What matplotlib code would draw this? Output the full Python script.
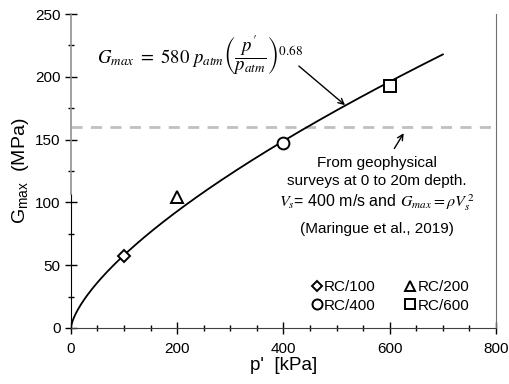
import numpy as np
import matplotlib
matplotlib.use("Agg")
import matplotlib.pyplot as plt
from matplotlib.ticker import MultipleLocator

plt.rcParams["font.family"] = ["Liberation Sans", "DejaVu Sans"]
plt.rcParams["mathtext.fontset"] = "custom"
plt.rcParams["mathtext.rm"] = "Liberation Sans"
plt.rcParams["mathtext.it"] = "Liberation Sans:italic"

# empirical fit shown on the chart: Gmax = 580 patm (p'/patm)^0.68
coef = 580
expo = 0.68
p_atm = 100.0  # kPa
p_max = 700

# resonant column tests
rc_labels = ["RC/100", "RC/200", "RC/400", "RC/600"]
rc_p = [100, 200, 400, 600]
rc_g = [57, 104, 147, 193]
rc_markers = ["D", "^", "o", "s"]
rc_sizes = [6.5, 8, 8.5, 8.5]

g_geo = 160  # MPa, geophysical surveys

fig = plt.figure(figsize=(5.1, 3.84), dpi=100)
ax = fig.add_axes([0.139, 0.146, 0.8335, 0.8175])

p = np.linspace(0, p_max, 600)
g = coef * p_atm * (p / p_atm) ** expo / 1000.0
ax.plot(p, g, color="black", lw=1.3, zorder=3)

ax.axhline(g_geo, color="#c0c0c0", lw=2, dashes=(4, 3), zorder=1)

handles = []
for lab, x, y, m, s in zip(rc_labels, rc_p, rc_g, rc_markers, rc_sizes):
    h, = ax.plot(x, y, ls="none", marker=m, ms=s, mfc="white", mec="black",
                 mew=1.4, label=lab, zorder=4)
    handles.append(h)

ax.set_xlim(0, 800)
ax.set_ylim(0, 250)
ax.xaxis.set_major_locator(MultipleLocator(200))
ax.xaxis.set_minor_locator(MultipleLocator(50))
ax.yaxis.set_major_locator(MultipleLocator(50))
ax.yaxis.set_minor_locator(MultipleLocator(25))
ax.tick_params(which="major", direction="inout", length=8, width=1, labelsize=11)
ax.tick_params(which="minor", direction="inout", length=4, width=1)
ax.tick_params(axis="x", pad=6)

ax.spines["top"].set_visible(False)
ax.spines["right"].set_color("#707070")
ax.spines["bottom"].set_color("#404040")
ax.spines["left"].set_bounds(0, 107)
ax.plot([0, 0], [107, 250], color="#909090", lw=1.2, clip_on=False, zorder=5)

ax.set_xlabel("p'  [kPa]", fontsize=13.5, labelpad=1)
ax.set_ylabel(r"G$_{\mathrm{max}}$  (MPa)", fontsize=14, labelpad=3)

order = [0, 2, 1, 3]
ax.legend([handles[i] for i in order], [rc_labels[i] for i in order], ncol=2,
          loc="lower right", bbox_to_anchor=(0.969, 0.005), frameon=False,
          fontsize=11, handlelength=0.7, handletextpad=0.1,
          columnspacing=1.95, labelspacing=0.3, markerscale=0.85)

ax.text(243, 217, r"$G_{max}\ =\ 580\ p_{atm}\left(\dfrac{p^{\prime}}{p_{atm}}\right)^{0.68}$",
        fontsize=13.5, ha="center", va="center", math_fontfamily="stix")
ax.annotate("", xy=(520, 176), xytext=(425, 210),
            arrowprops=dict(arrowstyle="->", color="black", lw=1))

ax.annotate("", xy=(629, 157), xytext=(606, 141),
            arrowprops=dict(arrowstyle="->", color="black", lw=1))
ax.text(576, 131, "From geophysical", fontsize=11, ha="center", va="center")
ax.text(576, 117, "surveys at 0 to 20m depth.", fontsize=11, ha="center", va="center")
ax.text(576, 100, r"$V_s$= 400 m/s and $G_{max} = \rho V_s^{\,2}$", fontsize=11.5,
        ha="center", va="center", math_fontfamily="stix")
ax.text(576, 79, "(Maringue et al., 2019)", fontsize=11, ha="center", va="center")

fig.savefig("out.png", dpi=100)
